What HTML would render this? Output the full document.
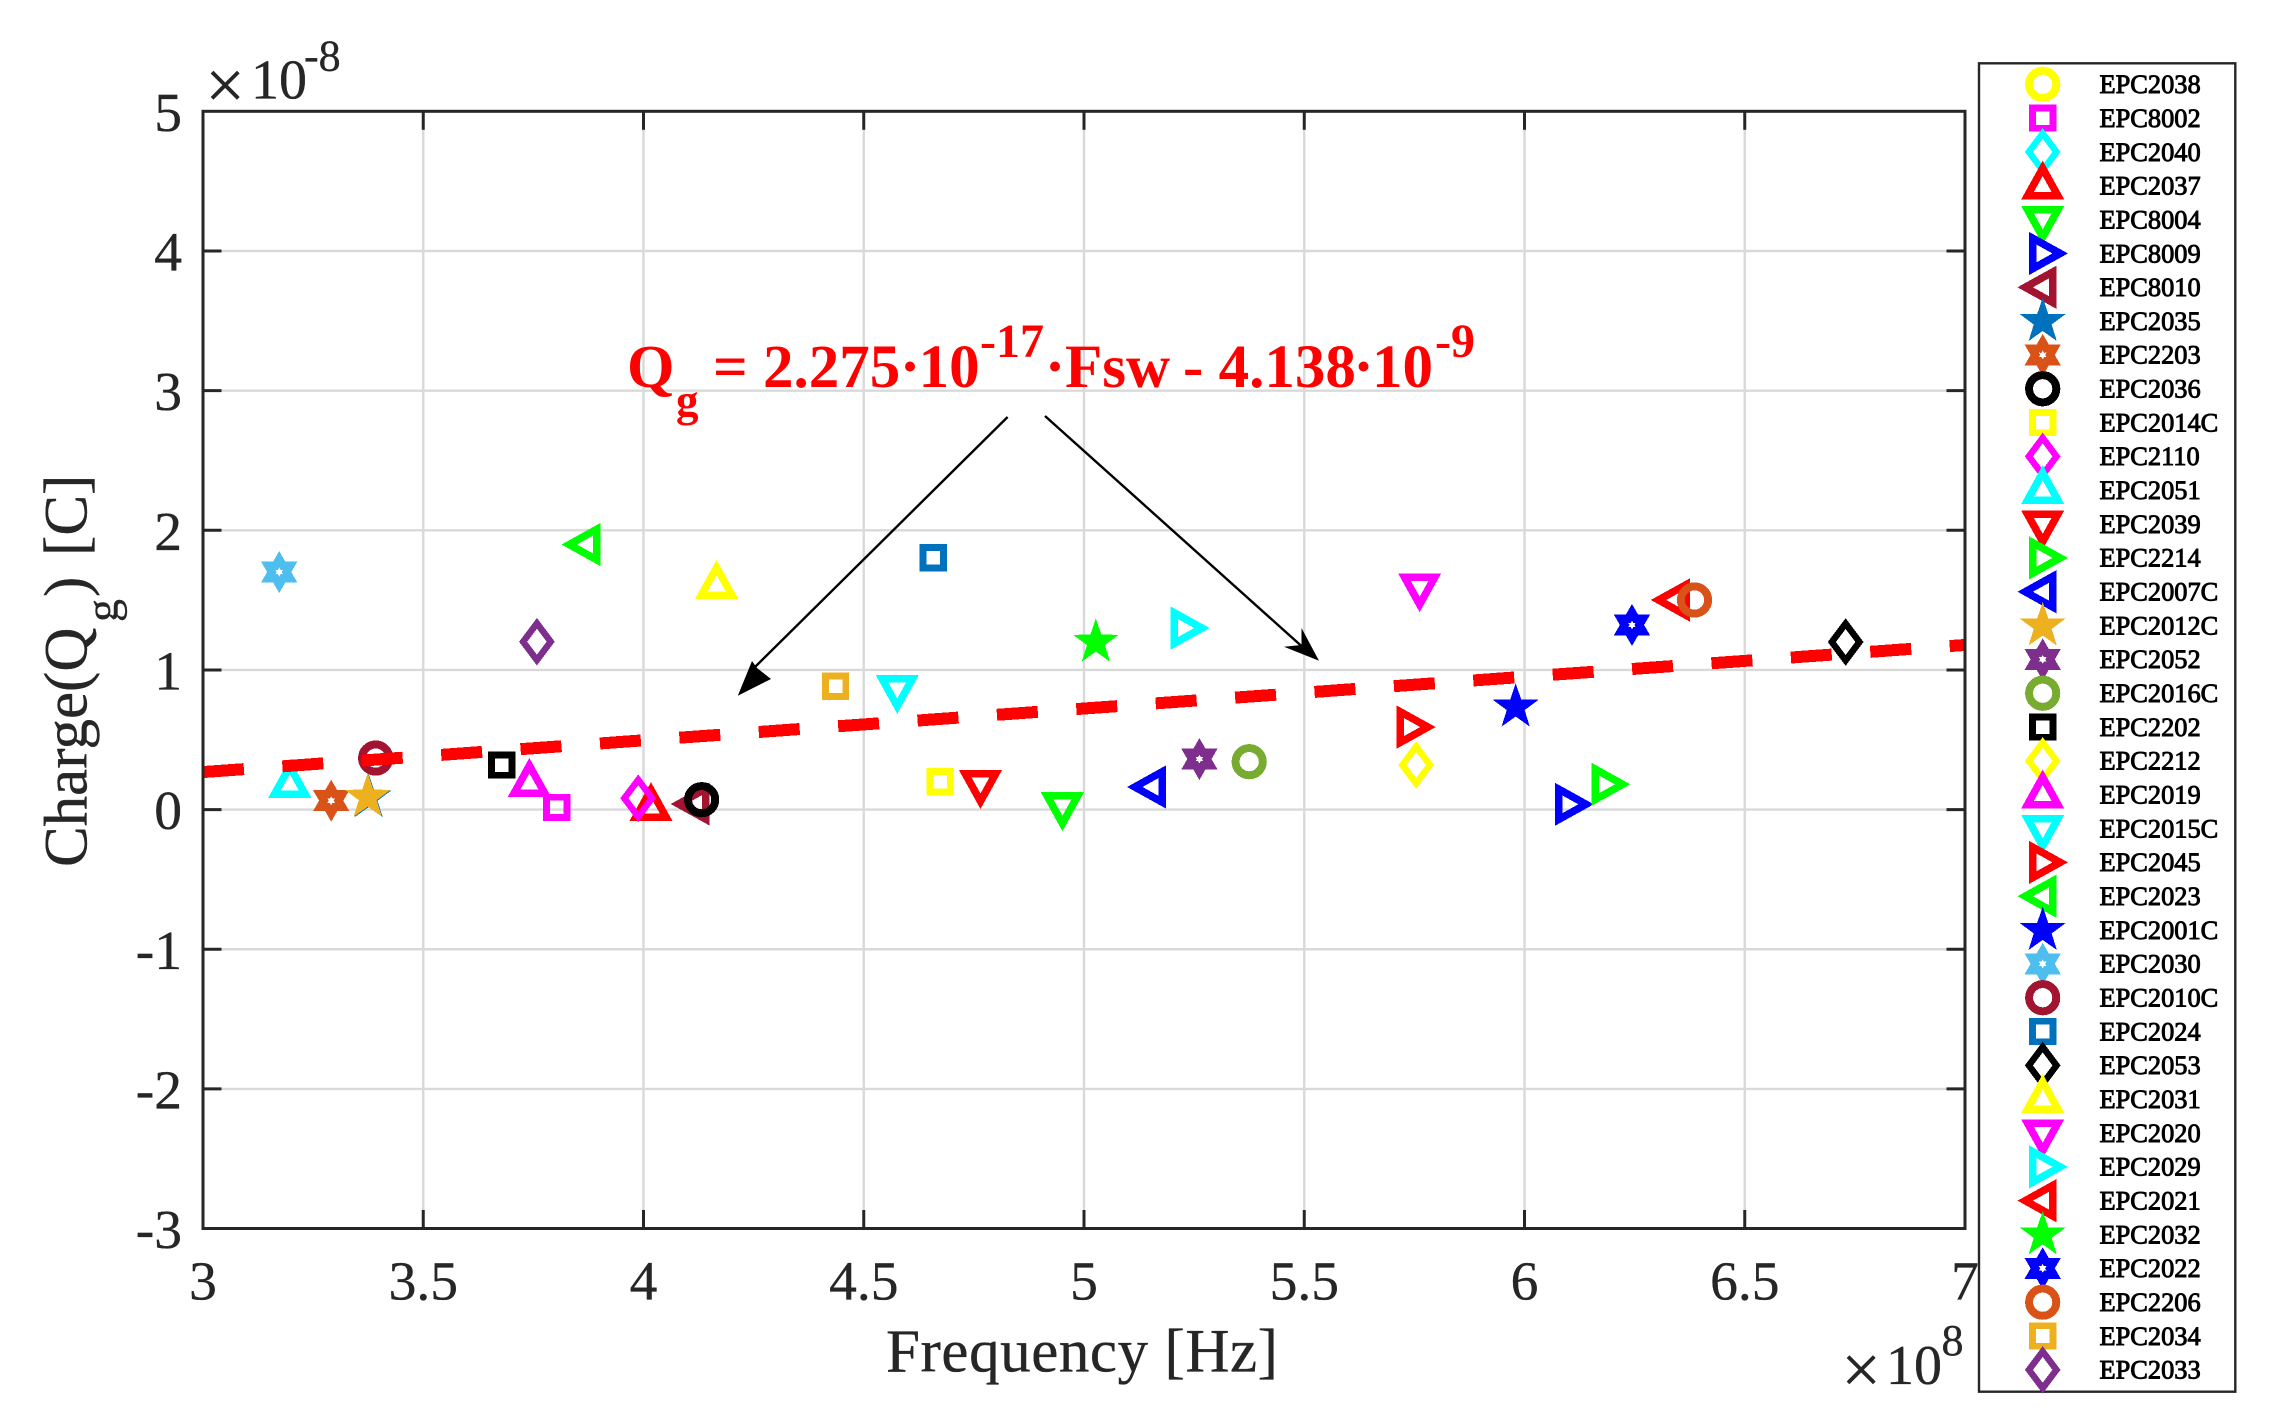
<!DOCTYPE html>
<html lang="en">
<head>
<meta charset="utf-8">
<title>Charge vs Frequency</title>
<style>
html,body{margin:0;padding:0;background:#fff;}
svg{display:block;}
text{font-family:"Liberation Serif","Times New Roman",serif;fill:#262626;stroke:#262626;stroke-width:.35px;}
text.eq{fill:#ff0000;stroke:none;font-weight:bold;}
text.legend-text{fill:#000;stroke:#000;stroke-width:.9px;font-size:26.4px;}
</style>
</head>
<body>
<svg id="chart" xmlns="http://www.w3.org/2000/svg" width="2274" height="1424" viewBox="0 0 2274 1424">
  <defs>
    <clipPath id="plot-clip"><rect x="203" y="111.3" width="1762" height="1117.2"/></clipPath>
  </defs>
  <rect x="0" y="0" width="2274" height="1424" fill="#fff"/>
  <g id="grid"></g>
  <g id="ticks"></g>
  <g id="marks" clip-path="url(#plot-clip)"></g>
  <g id="fit" clip-path="url(#plot-clip)"></g>
  <rect x="203" y="111.3" width="1762" height="1117.2" fill="none" stroke="#262626" stroke-width="3"/>
  <g id="tick-labels"></g>

  <g>
    <text x="205.4" y="108.5" font-size="70">×</text>
    <text x="251" y="98.7" font-size="56">10</text>
    <text x="304" y="70.7" font-size="44">-8</text>
  </g>
  <g>
    <text x="1841.4" y="1393" font-size="70">×</text>
    <text x="1886" y="1384" font-size="56">10</text>
    <text x="1941.5" y="1355" font-size="44">8</text>
  </g>

  <text x="886" y="1371.5" font-size="61" textLength="392" lengthAdjust="spacing">Frequency [Hz]</text>
  <g transform="translate(86.5 867) rotate(-90)">
    <text x="0" y="0" font-size="61">Charge(Q</text>
    <text x="245" y="31" font-size="46">g</text>
    <text x="270" y="0" font-size="61">)</text>
    <text x="311" y="0" font-size="61">[C]</text>
  </g>

  <g>
    <text class="eq" x="627" y="387" font-size="61">Q</text>
    <text class="eq" x="676" y="416" font-size="45">g</text>
    <text class="eq" x="713" y="387" font-size="61" xml:space="preserve">= 2.275</text>
    <text class="eq" x="910" y="387" font-size="61" text-anchor="middle">·</text>
    <text class="eq" x="918.6" y="387" font-size="61">10</text>
    <text class="eq" x="980" y="357" font-size="48">-17</text>
    <text class="eq" x="1055" y="387" font-size="61" text-anchor="middle">·</text>
    <text class="eq" x="1065" y="387" font-size="61">Fsw</text>
    <text class="eq" x="1183" y="387" font-size="61" xml:space="preserve">- 4.138</text>
    <text class="eq" x="1363.5" y="387" font-size="61" text-anchor="middle">·</text>
    <text class="eq" x="1372" y="387" font-size="61">10</text>
    <text class="eq" x="1435" y="357" font-size="48">-9</text>
  </g>

  <g>
    <line x1="1007.6" y1="417" x2="753" y2="669" stroke="#000" stroke-width="2.4"/>
    <polygon points="737.8,695.7 752,661 757,668 771,679" fill="#000"/>
  </g>
  <g>
    <line x1="1045" y1="416" x2="1307" y2="651" stroke="#000" stroke-width="2.4"/>
    <polygon points="1319,660.7 1284,646.7 1301.5,645 1301.5,628" fill="#000"/>
  </g>

  <rect x="1979" y="63.3" width="256.3" height="1328.4" fill="#fff" stroke="#262626" stroke-width="2.4"/>
  <g id="legend"></g>
</svg>
<script>
// Series data (frequency in units of 1e8 Hz, charge in units of 1e-8 C)
var seriesNames = ["EPC2038","EPC8002","EPC2040","EPC2037","EPC8004","EPC8009","EPC8010","EPC2035","EPC2203","EPC2036","EPC2014C","EPC2110","EPC2051","EPC2039","EPC2214","EPC2007C","EPC2012C","EPC2052","EPC2016C","EPC2202","EPC2212","EPC2019","EPC2015C","EPC2045","EPC2023","EPC2001C","EPC2030","EPC2010C","EPC2024","EPC2053","EPC2031","EPC2020","EPC2029","EPC2021","EPC2032","EPC2022","EPC2206","EPC2034","EPC2033"];
var frequency = [2.70,3.803,2.80,4.017,4.951,6.100,4.119,3.376,3.291,4.132,4.673,3.988,3.197,4.765,6.183,5.155,3.374,5.262,5.375,3.678,5.754,3.741,4.576,5.741,3.871,5.980,3.173,3.392,4.658,6.729,4.166,5.762,5.228,6.344,5.027,6.244,6.386,4.436,3.758];
var charge = [0.02,0.016,0.03,0.016,0.026,0.038,0.040,0.088,0.064,0.071,0.200,0.081,0.183,0.185,0.181,0.162,0.092,0.362,0.343,0.319,0.319,0.190,0.866,0.591,1.898,0.737,1.701,0.369,1.804,1.200,1.608,1.594,1.300,1.501,1.202,1.322,1.501,0.883,1.202];
var markerSymbols = ["o","s","d","^","v",">","<","p","h","o","s","d","^","v",">","<","p","h","o","s","d","^","v",">","<","p","h","o","s","d","^","v",">","<","p","h","o","s","d"];
var seriesColors = ["#ffff00","#ff00ff","#00ffff","#ff0000","#00ff00","#0000ff","#a2142f","#0072bd","#d95319","#000000","#ffff00","#ff00ff","#00ffff","#ff0000","#00ff00","#0000ff","#edb120","#7e2f8e","#77ac30","#000000","#ffff00","#ff00ff","#00ffff","#ff0000","#00ff00","#0000ff","#4dbeee","#a2142f","#0072bd","#000000","#ffff00","#ff00ff","#00ffff","#ff0000","#00ff00","#0000ff","#d95319","#edb120","#7e2f8e"];
var xTickValues = [3,3.5,4,4.5,5,5.5,6,6.5,7];
var xTickLabels = ["3","3.5","4","4.5","5","5.5","6","6.5","7"];
var yTickValues = [-3,-2,-1,0,1,2,3,4,5];
var yTickLabels = ["-3","-2","-1","0","1","2","3","4","5"];
var fitFrequency = [3,7];
var fitCharge = [0.2687,1.1787];

var NS = "http://www.w3.org/2000/svg";
function xPos(v){ return 203 + (v - 3) * 440.5; }
function yPos(v){ return 809.6 - v * 139.65; }
function make(tag, attrs, parent){
  var el = document.createElementNS(NS, tag);
  for (var k in attrs) el.setAttribute(k, attrs[k]);
  parent.appendChild(el);
  return el;
}
function polyPoints(pts, cx, cy){
  return pts.map(function(p){ return (cx + p[0]).toFixed(2) + "," + (cy + p[1]).toFixed(2); }).join(" ");
}
function radial(n, rOuter, rInner, cx, cy){
  var d = "M";
  for (var i = 0; i < n * 2; i++){
    var r = i % 2 ? rInner : rOuter;
    var a = -Math.PI / 2 + i * Math.PI / n;
    d += (i ? "L" : "") + (cx + r * Math.cos(a)).toFixed(2) + " " + (cy + r * Math.sin(a)).toFixed(2);
  }
  return d + "Z";
}
function drawMarker(sym, color, cx, cy, parent){
  var s = {fill:"none", stroke:color, "stroke-linejoin":"miter", "stroke-miterlimit":"10", "shape-rendering":"crispEdges"};
  var el;
  if (sym === "o"){
    s.cx = cx; s.cy = cy; s.r = 13.6; s["stroke-width"] = 8;
    el = make("circle", s, parent);
  } else if (sym === "s"){
    s.x = cx - 10.2; s.y = cy - 10.2; s.width = 20.4; s.height = 20.4; s["stroke-width"] = 6.8;
    el = make("rect", s, parent);
  } else if (sym === "d"){
    s.points = polyPoints([[0,-18.4],[13.8,0],[0,18.4],[-13.8,0]], cx, cy); s["stroke-width"] = 6.5;
    el = make("polygon", s, parent);
  } else if (sym === "^"){
    s.points = polyPoints([[0,-17.5],[15.25,10],[-15.25,10]], cx, cy); s["stroke-width"] = 7.5;
    el = make("polygon", s, parent);
  } else if (sym === "v"){
    s.points = polyPoints([[0,17.5],[15.25,-10],[-15.25,-10]], cx, cy); s["stroke-width"] = 7.5;
    el = make("polygon", s, parent);
  } else if (sym === ">"){
    s.points = polyPoints([[17.5,0],[-10,15.25],[-10,-15.25]], cx, cy); s["stroke-width"] = 7.5;
    el = make("polygon", s, parent);
  } else if (sym === "<"){
    s.points = polyPoints([[-17.5,0],[10,15.25],[10,-15.25]], cx, cy); s["stroke-width"] = 7.5;
    el = make("polygon", s, parent);
  } else if (sym === "p"){
    el = make("path", {d: radial(5, 24, 9.4, cx, cy + 0.5), fill: color, "shape-rendering":"crispEdges"}, parent);
  } else {
    el = make("path", {d: radial(6, 21, 12.1, cx, cy) + radial(6, 4.4, 2.5, cx, cy), fill: color, "fill-rule":"evenodd", "shape-rendering":"crispEdges"}, parent);
  }
  return el;
}

var gridG = document.getElementById("grid");
var ticksG = document.getElementById("ticks");
var labelsG = document.getElementById("tick-labels");
xTickValues.forEach(function(v, i){
  var x = xPos(v);
  if (i > 0 && i < xTickValues.length - 1){
    var g = make("line", {x1:x, x2:x, y1:111.3, y2:1228.5, stroke:"#d9d9d9", "stroke-width":2.4}, gridG);
    
    
    var t1 = make("line", {x1:x, x2:x, y1:1228.5, y2:1210, stroke:"#262626", "stroke-width":3}, ticksG);
    
    
    var t2 = make("line", {x1:x, x2:x, y1:111.3, y2:129.8, stroke:"#262626", "stroke-width":3}, ticksG);
    
    
  }
  var lab = make("text", {x:x, y:1299.3, "font-size":55.5, "text-anchor":"middle"}, labelsG);
  lab.textContent = xTickLabels[i];
  
  
});
yTickValues.forEach(function(v, i){
  var y = yPos(v);
  if (i > 0 && i < yTickValues.length - 1){
    var g = make("line", {x1:203, x2:1965, y1:y, y2:y, stroke:"#d9d9d9", "stroke-width":2.4}, gridG);
    
    
    var t1 = make("line", {x1:203, x2:221.5, y1:y, y2:y, stroke:"#262626", "stroke-width":3}, ticksG);
    
    
    var t2 = make("line", {x1:1965, x2:1946.5, y1:y, y2:y, stroke:"#262626", "stroke-width":3}, ticksG);
    
    
  }
  var lab = make("text", {x:182, y:y + 19.5, "font-size":55.5, "text-anchor":"end"}, labelsG);
  lab.textContent = yTickLabels[i];
  
  
});

var marksG = document.getElementById("marks");
seriesNames.forEach(function(name, i){
  var m = drawMarker(markerSymbols[i], seriesColors[i], xPos(frequency[i]), yPos(charge[i]), marksG);
  
  
});

var fitLine = make("line", {
  x1: xPos(fitFrequency[0]), y1: yPos(fitCharge[0]),
  x2: xPos(fitFrequency[1]), y2: yPos(fitCharge[1]),
  stroke: "#ff0000", "stroke-width": 12, "stroke-dasharray": "41 38.6", "shape-rendering": "crispEdges"
}, document.getElementById("fit"));



var legendG = document.getElementById("legend");
seriesNames.forEach(function(name, i){
  var rowY = 84.3 + i * 33.83;
  var m = drawMarker(markerSymbols[i], seriesColors[i], 2042.7, rowY, legendG);
  
  
  var t = make("text", {x: 2099.5, y: rowY + 8.8, "class": "legend-text"}, legendG);
  t.textContent = name;
  
  
});
</script>
</body>
</html>
